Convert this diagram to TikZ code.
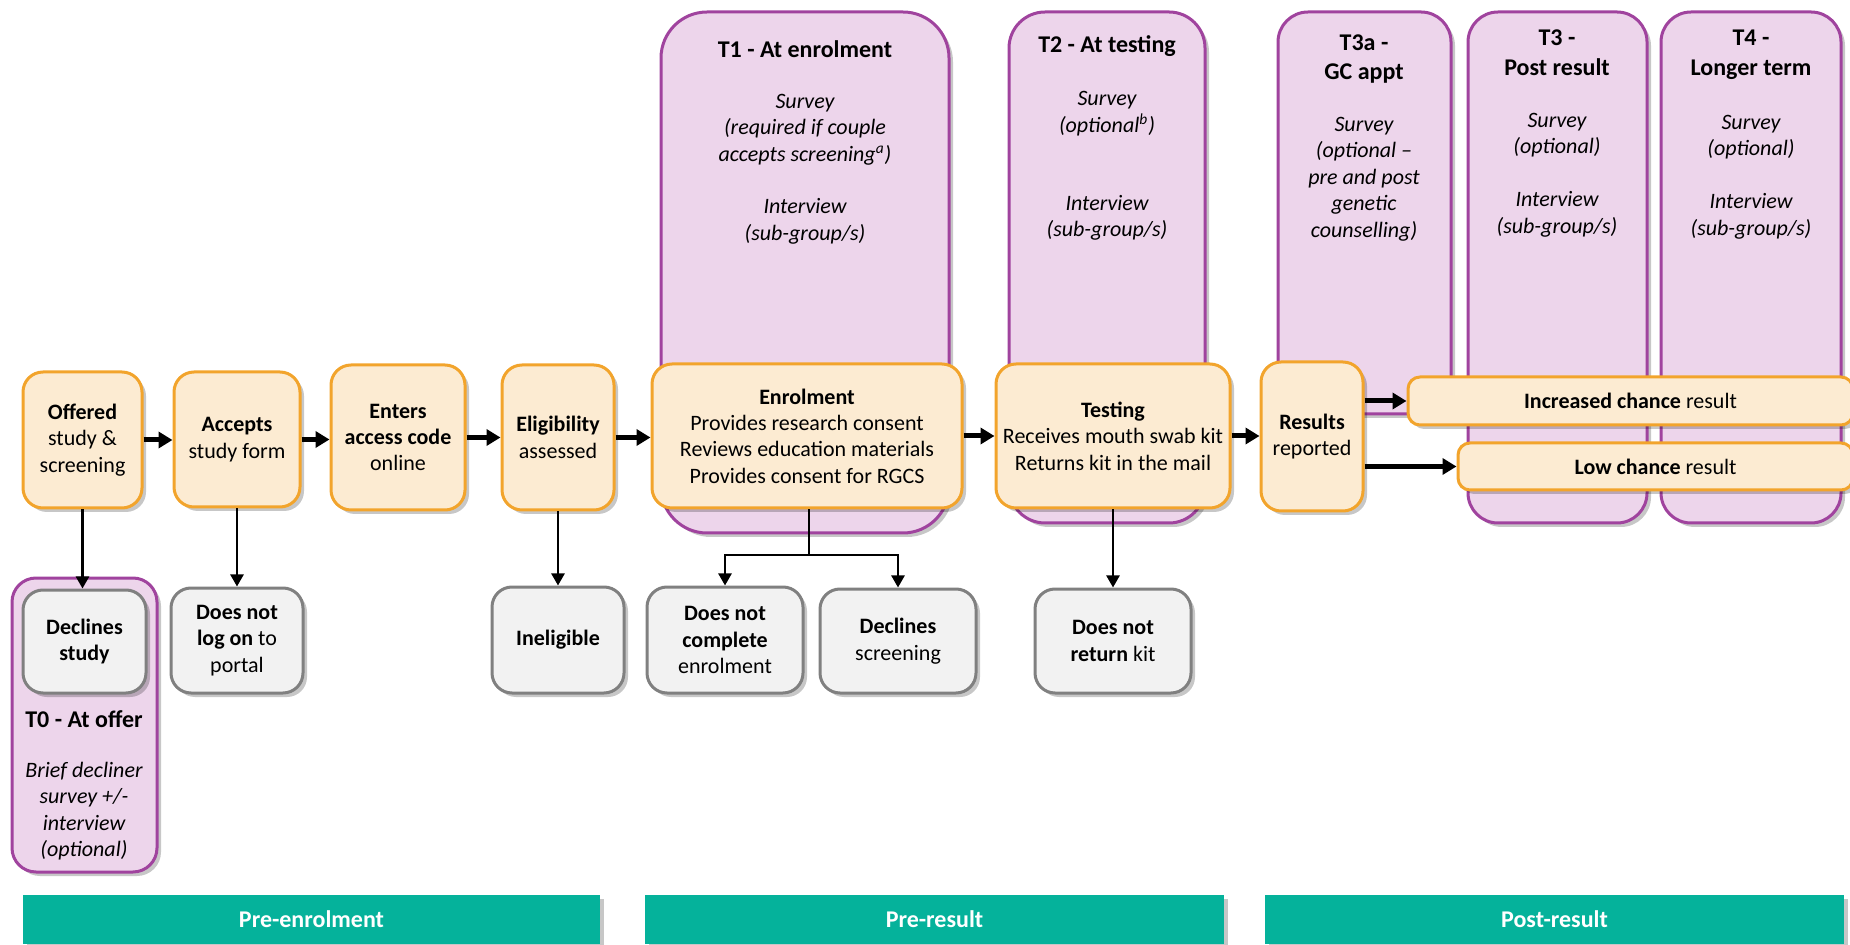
\documentclass[tikz,border=0pt]{standalone}
\usepackage{fontspec}
\setmainfont{Carlito}
\usetikzlibrary{arrows.meta,shadows}
\definecolor{ofill}{HTML}{FCEBD2}
\definecolor{odraw}{HTML}{F2A42C}
\definecolor{pfill}{HTML}{EDD5EB}
\definecolor{pdraw}{HTML}{A0439E}
\definecolor{gfill}{HTML}{F2F2F2}
\definecolor{gdraw}{HTML}{808080}
\definecolor{barteal}{HTML}{05B29B}
\begin{document}
\begin{tikzpicture}[x=0.5pt,y=-0.5pt,
  shd/.style={drop shadow={shadow xshift=2pt,shadow yshift=-2pt,opacity=0.22,fill=black}},
  base/.style={font=\fontsize{11}{13.2}\selectfont,align=center,inner sep=0pt,line width=1.5pt,text=black},
  obox/.style={base,draw=odraw,fill=ofill,rounded corners=10pt,shd},
  rbox/.style={base,draw=odraw,fill=ofill,rounded corners=6pt,shd},
  gbox/.style={base,draw=gdraw,fill=gfill,rounded corners=10pt,shd},
  pbox/.style={draw=pdraw,fill=pfill,line width=1.5pt,inner sep=0pt,shd},
  ttl/.style={font=\bfseries\fontsize{12}{14.8}\selectfont,align=center,inner sep=0pt},
  ital/.style={font=\itshape\fontsize{11}{13.2}\selectfont,align=center,inner sep=0pt},
  bar/.style={fill=barteal,inner sep=0pt,text=white,font=\bfseries\fontsize{12}{14}\selectfont,shd},
  flow/.style={line width=2.5pt,-{Triangle[length=7pt,width=8pt]}},
  drop/.style={line width=1.2pt,-{Triangle[length=6pt,width=6.5pt]}},
  plain/.style={line width=1.2pt}
]
\useasboundingbox (0,0) rectangle (1850,945);

% purple timepoint boxes
\node[pbox,rounded corners=12pt,minimum width=72.5pt,minimum height=147pt] (t0) at (84.5,725) {};
\node[pbox,rounded corners=23pt,minimum width=144pt,minimum height=260.5pt] (t1) at (805,272.5) {};
\node[pbox,rounded corners=18pt,minimum width=98pt,minimum height=255.5pt] (t2) at (1107,267.5) {};
\node[pbox,rounded corners=15pt,minimum width=86.5pt,minimum height=201pt] (t3a) at (1364.5,213) {};
\node[pbox,rounded corners=15pt,minimum width=89.5pt,minimum height=255.5pt] (t3) at (1557.5,267.5) {};
\node[pbox,rounded corners=15pt,minimum width=90pt,minimum height=255.5pt] (t4) at (1751,267.5) {};

% purple box texts
\node[ttl] (t1t) at (805,49) {T1 - At enrolment};
\node[ital] (t1b) at (805,169) {Survey\\(required if couple\\accepts screening\textsuperscript{a})\\[13.2pt]Interview\\(sub-group/s)};
\node[ttl] (t2t) at (1107,46) {T2 - At testing};
\node[ital] (t2b) at (1107,166) {Survey\\(optional\textsuperscript{b})\\[26pt]Interview\\(sub-group/s)};
\node[ttl] (t3at) at (1364,59) {T3a -\\GC appt};
\node[ital] (t3ab) at (1364,179) {Survey\\(optional --\\pre and post\\genetic\\counselling)};
\node[ttl] (t3t) at (1557,53) {T3 -\\Post result};
\node[ital] (t3b) at (1557,175) {Survey\\(optional)\\[13.2pt]Interview\\(sub-group/s)};
\node[ttl] (t4t) at (1751,55) {T4 -\\Longer term};
\node[ital] (t4b) at (1751,177) {Survey\\(optional)\\[13.2pt]Interview\\(sub-group/s)};
\node[ttl] (t0t) at (84,719) {T0 - At offer};
\node[ital] (t0b) at (84,811) {Brief decliner\\survey +/-\\interview\\(optional)};

% main flow boxes
\node[obox,minimum width=59.5pt,minimum height=68pt] (offered) at (82.5,440) {\textbf{Offered}\\study \&\\screening};
\node[obox,minimum width=63pt,minimum height=67.5pt] (accepts) at (237,439.5) {\textbf{Accepts}\\study form};
\node[obox,minimum width=67pt,minimum height=72.5pt] (enters) at (398,437.5) {\textbf{Enters}\\\textbf{access code}\\online};
\node[obox,minimum width=56pt,minimum height=72.5pt] (elig) at (558,437.5) {\textbf{Eligibility}\\assessed};
\node[obox,minimum width=155pt,minimum height=72pt] (enrol) at (807,436) {\textbf{Enrolment}\\Provides research consent\\Reviews education materials\\Provides consent for RGCS};
\node[obox,minimum width=117pt,minimum height=72pt] (testing) at (1113,436) {\textbf{Testing}\\Receives mouth swab kit\\Returns kit in the mail};
\node[obox,minimum width=51pt,minimum height=74.5pt] (results) at (1312,436.5) {\textbf{Results}\\reported};
\node[rbox,minimum width=222.5pt,minimum height=24pt] (incr) at (1630.5,401) {\textbf{Increased chance} result};
\node[rbox,minimum width=197.5pt,minimum height=23.5pt] (low) at (1655.5,466.5) {\textbf{Low chance} result};

% exit boxes
\node[gbox,minimum width=61.5pt,minimum height=51.5pt] (declst) at (84.5,641.5) {\textbf{Declines}\\\textbf{study}};
\node[gbox,minimum width=66pt,minimum height=52.5pt] (nolog) at (237,640.5) {\textbf{Does not}\\\textbf{log on} to\\portal};
\node[gbox,minimum width=66pt,minimum height=53pt] (inelig) at (558,640) {\textbf{Ineligible}};
\node[gbox,minimum width=78pt,minimum height=53pt] (nocomp) at (725,640) {\textbf{Does not}\\\textbf{complete}\\enrolment};
\node[gbox,minimum width=78pt,minimum height=52pt] (declscr) at (898,641) {\textbf{Declines}\\screening};
\node[gbox,minimum width=78pt,minimum height=52pt] (noret) at (1113,641) {\textbf{Does not}\\\textbf{return} kit};

% phase bars
\node[bar,minimum width=288.5pt,minimum height=24.5pt] (pre) at (311.5,919.5) {Pre-enrolment};
\node[bar,minimum width=289.5pt,minimum height=24.5pt] (pres) at (934.5,919.5) {Pre-result};
\node[bar,minimum width=289.5pt,minimum height=24.5pt] (post) at (1554.5,919.5) {Post-result};

% horizontal flow arrows
\draw[flow] (offered.east) -- (offered.east -| accepts.west);
\draw[flow] (accepts.east) -- (accepts.east -| enters.west);
\draw[flow] (enters.east) -- (enters.east -| elig.west);
\draw[flow] (elig.east) -- (elig.east -| enrol.west);
\draw[flow] (enrol.east) -- (enrol.east -| testing.west);
\draw[flow] (testing.east) -- (testing.east -| results.west);
\draw[flow] (results.east |- incr.west) -- (incr.west);
\draw[flow] (results.east |- low.west) -- (low.west);

% down arrows
\draw[drop] (offered.south) -- (offered.south |- declst.north);
\draw[drop] (accepts.south) -- (accepts.south |- nolog.north);
\draw[drop] (elig.south) -- (elig.south |- inelig.north);
\draw[drop] (testing.south) -- (testing.south |- noret.north);
\coordinate (split) at (809,555);
\draw[plain] (enrol.south -| split) -- (split);
\draw[drop] (split) -| (nocomp.north);
\draw[drop] (split) -| (declscr.north);
\end{tikzpicture}
\end{document}
